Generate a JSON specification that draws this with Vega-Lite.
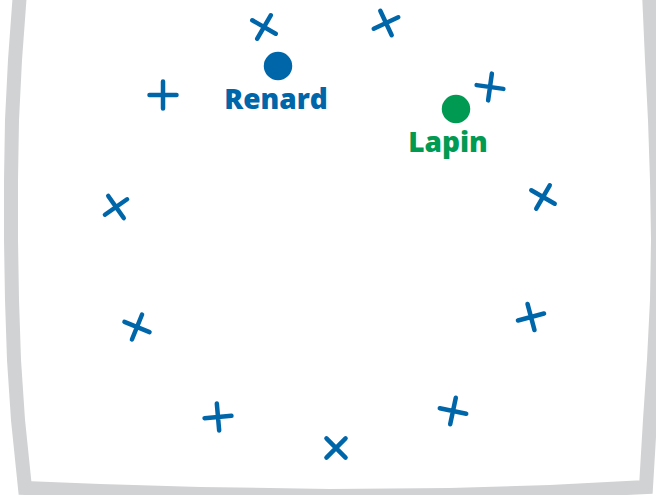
{
  "$schema": "https://vega.github.io/schema/vega-lite/v6.json",
  "width": 656,
  "height": 495,
  "autosize": {"type": "none"},
  "padding": 0,
  "background": "white",
  "config": {"view": {"stroke": null}},
  "datasets": {
    "border": [
      {"i": 1, "x": 20, "y": -8},
      {"i": 2, "x": 15, "y": 60},
      {"i": 3, "x": 12, "y": 120},
      {"i": 4, "x": 11, "y": 180},
      {"i": 5, "x": 11, "y": 240},
      {"i": 6, "x": 12, "y": 300},
      {"i": 7, "x": 14, "y": 360},
      {"i": 8, "x": 18, "y": 420},
      {"i": 9, "x": 25, "y": 488},
      {"i": 10, "x": 100, "y": 491},
      {"i": 11, "x": 200, "y": 494},
      {"i": 12, "x": 330, "y": 496},
      {"i": 13, "x": 450, "y": 495},
      {"i": 14, "x": 550, "y": 492},
      {"i": 15, "x": 646, "y": 487},
      {"i": 16, "x": 650, "y": 420},
      {"i": 17, "x": 654, "y": 360},
      {"i": 18, "x": 657, "y": 300},
      {"i": 19, "x": 658, "y": 240},
      {"i": 20, "x": 657, "y": 180},
      {"i": 21, "x": 655, "y": 120},
      {"i": 22, "x": 652, "y": 60},
      {"i": 23, "x": 649, "y": -8}
    ],
    "crosses": [
      {"x": 264, "y": 27, "angle": 30},
      {"x": 386, "y": 23, "angle": -25},
      {"x": 163, "y": 95, "angle": 0},
      {"x": 490, "y": 87, "angle": 8},
      {"x": 116, "y": 207, "angle": -35},
      {"x": 543, "y": 197, "angle": 30},
      {"x": 137, "y": 327, "angle": 22},
      {"x": 531, "y": 317, "angle": -15},
      {"x": 218, "y": 417, "angle": -5},
      {"x": 453, "y": 411, "angle": 12},
      {"x": 336, "y": 448, "angle": 45}
    ],
    "animals": [
      {"name": "Renard", "x": 278, "y": 66, "lx": 276, "ly": 109},
      {"name": "Lapin", "x": 456, "y": 109, "lx": 448, "ly": 152}
    ]
  },
  "layer": [
    {
      "data": {"name": "border"},
      "mark": {"type": "line", "color": "#D1D2D4", "strokeWidth": 14, "strokeJoin": "miter", "strokeCap": "butt"},
      "encoding": {
        "x": {"field": "x", "type": "quantitative", "scale": {"domain": [0, 656], "nice": false, "zero": false}, "axis": null},
        "y": {"field": "y", "type": "quantitative", "scale": {"domain": [0, 495], "reverse": true, "nice": false, "zero": false}, "axis": null},
        "order": {"field": "i", "type": "quantitative"}
      }
    },
    {
      "data": {"name": "crosses"},
      "mark": {"type": "point", "shape": "M-1,0L1,0M0,-1L0,1", "filled": false, "stroke": "#0066AA", "strokeWidth": 4.5, "strokeCap": "round", "size": 730, "opacity": 1},
      "encoding": {
        "x": {"field": "x", "type": "quantitative"},
        "y": {"field": "y", "type": "quantitative"},
        "angle": {"field": "angle", "type": "quantitative", "scale": null}
      }
    },
    {
      "data": {"name": "animals"},
      "mark": {"type": "point", "shape": "circle", "filled": true, "size": 810, "opacity": 1},
      "encoding": {
        "x": {"field": "x", "type": "quantitative"},
        "y": {"field": "y", "type": "quantitative"},
        "color": {"field": "name", "type": "nominal", "scale": {"domain": ["Renard", "Lapin"], "range": ["#0066AA", "#009A52"]}, "legend": null}
      }
    },
    {
      "data": {"name": "animals"},
      "mark": {"type": "text", "font": "Open Sans", "fontSize": 28, "fontWeight": 800, "align": "center", "baseline": "alphabetic"},
      "encoding": {
        "x": {"field": "lx", "type": "quantitative"},
        "y": {"field": "ly", "type": "quantitative"},
        "text": {"field": "name"},
        "color": {"field": "name", "type": "nominal", "scale": {"domain": ["Renard", "Lapin"], "range": ["#0066AA", "#009A52"]}, "legend": null}
      }
    }
  ]
}
